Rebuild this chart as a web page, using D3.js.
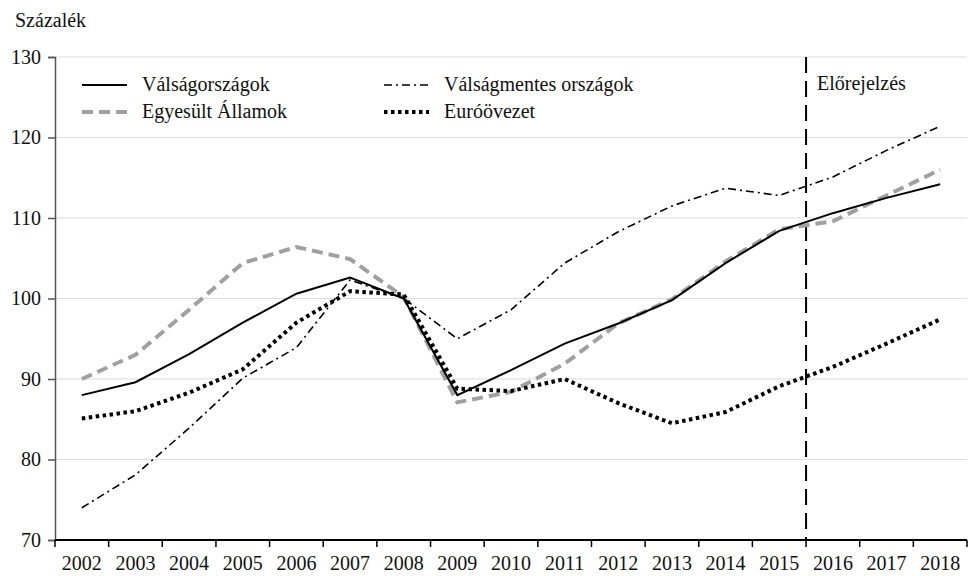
<!DOCTYPE html>
<html>
<head>
<meta charset="utf-8">
<script src="https://cdn.jsdelivr.net/npm/d3@7"></script>
<style>
    body { margin: 0; background: #fff; }
    svg text { font-family: "Liberation Serif", "Times New Roman", Times, "DejaVu Serif", serif; fill: #111; }
    .grid line { stroke: #dcdcdc; stroke-width: 1.2; }
    .series { fill: none; }
</style>
</head>
<body>
<div id="chart"></div>
<script>
// évek és sorok
var years = ["2002", "2003", "2004", "2005", "2006", "2007", "2008", "2009", "2010",
    "2011", "2012", "2013", "2014", "2015", "2016", "2017", "2018"];
var valsagorszagok = [88.0, 89.6, 93.1, 97.0, 100.6, 102.6, 100.0, 88.0, 91.1, 94.4, 96.9, 99.8, 104.4, 108.4, 110.6, 112.5, 114.2];
var egyesultAllamok = [90.0, 93.0, 98.6, 104.4, 106.4, 104.9, 100.2, 87.1, 88.4, 91.9, 96.9, 99.9, 104.6, 108.6, 109.6, 112.8, 116.0];
var valsagmentes = [74.0, 78.1, 83.9, 90.1, 93.9, 102.3, 100.0, 95.0, 98.6, 104.4, 108.3, 111.5, 113.7, 112.8, 115.1, 118.4, 121.4];
var eurozona = [85.1, 86.0, 88.3, 91.2, 97.0, 100.9, 100.5, 88.8, 88.5, 90.0, 87.0, 84.5, 85.9, 89.1, 91.5, 94.4, 97.4];
var yTicks = [70, 80, 90, 100, 110, 120, 130];
var forecastStart = "2016";

var FONT = "'Liberation Serif', 'Times New Roman', Times, 'DejaVu Serif', serif";

var width = 969, height = 576;
var margin = {top: 57, right: 2, bottom: 36, left: 55};
var innerW = width - margin.left - margin.right,
    innerH = height - margin.top - margin.bottom;

var series = [
    {name: "Válságországok", values: valsagorszagok, color: "#000", width: 2, dash: null, col: 0, row: 0},
    {name: "Egyesült Államok", values: egyesultAllamok, color: "#a0a0a0", width: 4, dash: "11,6", col: 0, row: 1},
    {name: "Válságmentes országok", values: valsagmentes, color: "#000", width: 1.6, dash: "8,4,2,4", col: 1, row: 0},
    {name: "Euróövezet", values: eurozona, color: "#000", width: 4, dash: "3.5,3.5", col: 1, row: 1}
];

var svg = d3.select("#chart").append("svg")
    .attr("width", width)
    .attr("height", height)
    .attr("font-family", FONT);

var g = svg.append("g")
    .attr("transform", "translate(" + margin.left + "," + margin.top + ")");

var xScale = d3.scaleBand().domain(years).range([0, innerW]).padding(0);
var yScale = d3.scaleLinear().domain([70, 130]).range([innerH, 0]);

// rács
g.append("g")
    .attr("class", "grid")
    .selectAll("line")
    .data(yTicks.filter(function (d) { return d > 70; }))
    .enter().append("line")
    .attr("x1", 0)
    .attr("x2", innerW)
    .attr("y1", function (d) { return yScale(d); })
    .attr("y2", function (d) { return yScale(d); });

// y tengely
var yAxis = d3.axisLeft(yScale).tickValues(yTicks).tickSize(7).tickPadding(7);
var yAxisG = g.append("g").attr("class", "y axis").call(yAxis).attr("font-family", FONT);
yAxisG.select("path.domain").attr("stroke", "#555").attr("stroke-width", 1.5);
yAxisG.selectAll(".tick line").attr("stroke", "#555").attr("stroke-width", 1.5);
yAxisG.selectAll(".tick text")
    .style("font-family", FONT)
    .style("font-size", "20px")
    .attr("fill", "#111");

// x tengely: címkék a sávok közepén, osztásjelek a határokon
var xAxis = d3.axisBottom(xScale).tickSize(0).tickPadding(16);
var xAxisG = g.append("g")
    .attr("class", "x axis")
    .attr("transform", "translate(0," + innerH + ")")
    .call(xAxis)
    .attr("font-family", FONT);
xAxisG.select("path.domain").remove();
xAxisG.selectAll(".tick text")
    .style("font-family", FONT)
    .style("font-size", "20px")
    .attr("fill", "#111");

var boundaries = years.map(function (d) { return xScale(d); }).concat([innerW]);
xAxisG.selectAll("line.bound")
    .data(boundaries)
    .enter().append("line")
    .attr("class", "bound")
    .attr("x1", function (d) { return d; })
    .attr("x2", function (d) { return d; })
    .attr("y1", 0)
    .attr("y2", 7)
    .attr("stroke", "#000")
    .attr("stroke-width", 1.5);
xAxisG.append("line")
    .attr("x1", 0)
    .attr("x2", innerW)
    .attr("y1", 0)
    .attr("y2", 0)
    .attr("stroke", "#000")
    .attr("stroke-width", 1.8);

// előrejelzés határa
g.append("line")
    .attr("x1", xScale(forecastStart))
    .attr("x2", xScale(forecastStart))
    .attr("y1", yScale(130))
    .attr("y2", yScale(70))
    .attr("stroke", "#000")
    .attr("stroke-width", 2)
    .attr("stroke-dasharray", "16,8");

g.append("text")
    .attr("x", xScale(forecastStart) + 11)
    .attr("y", 33)
    .style("font-family", FONT)
    .style("font-size", "20px")
    .text("Előrejelzés");

// vonalak
var line = d3.line()
    .x(function (d, i) { return xScale(years[i]) + xScale.bandwidth() / 2; })
    .y(function (d) { return yScale(d); });

var drawOrder = [1, 2, 3, 0];
drawOrder.forEach(function (k) {
    var s = series[k];
    g.append("path")
        .attr("class", "series")
        .attr("d", line(s.values))
        .attr("stroke", s.color)
        .attr("stroke-width", s.width)
        .attr("stroke-dasharray", s.dash);
});

// jelmagyarázat
var legendX = [27, 329], legendY = [28, 55];
series.forEach(function (s) {
    var lx = legendX[s.col], ly = legendY[s.row];
    g.append("line")
        .attr("x1", lx)
        .attr("x2", lx + 45)
        .attr("y1", ly)
        .attr("y2", ly)
        .attr("stroke", s.color)
        .attr("stroke-width", s.width)
        .attr("stroke-dasharray", s.dash);
    g.append("text")
        .attr("x", lx + 60)
        .attr("y", ly + 6)
        .style("font-family", FONT)
        .style("font-size", "20px")
        .text(s.name);
});

svg.append("text")
    .attr("x", 15)
    .attr("y", 27)
    .style("font-family", FONT)
    .style("font-size", "20px")
    .text("Százalék");
</script>
</body>
</html>
